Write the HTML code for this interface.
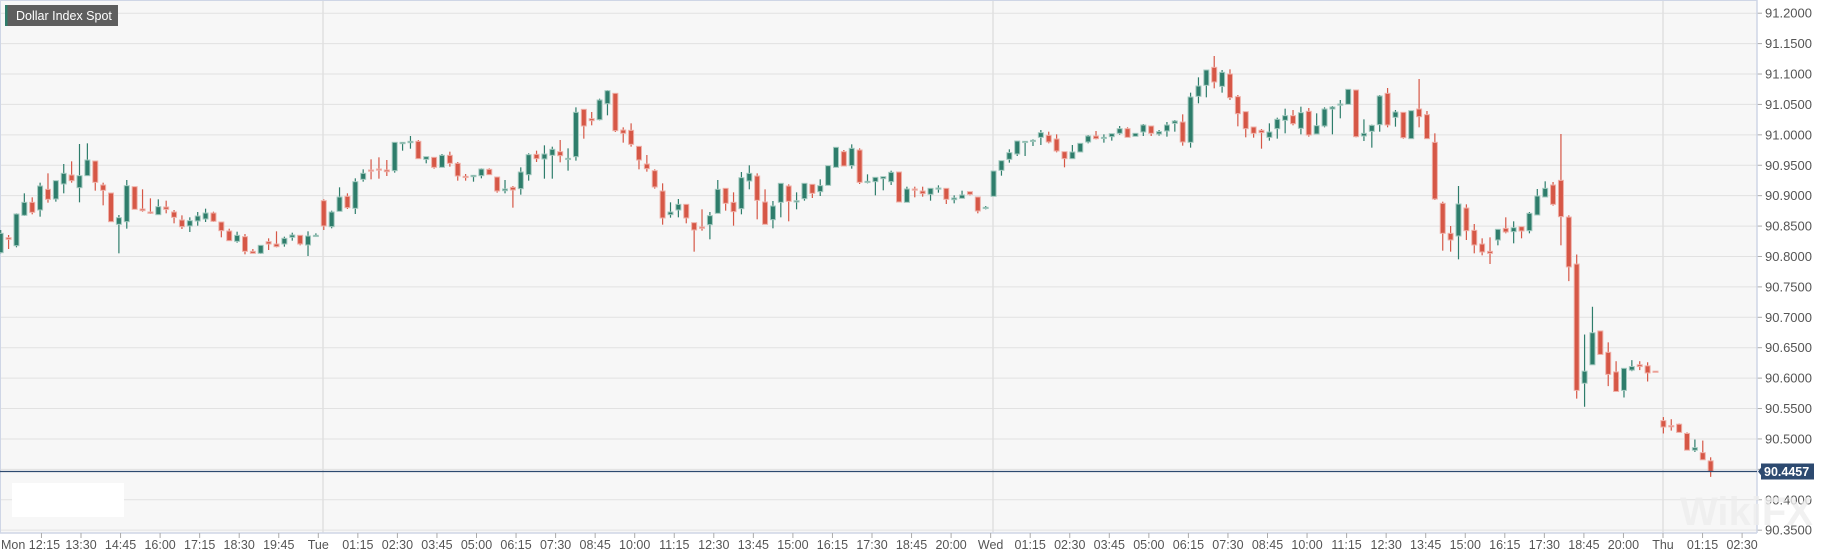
<!DOCTYPE html>
<html><head><meta charset="utf-8">
<style>
html,body{margin:0;padding:0;background:#fff;}
body{width:1828px;height:558px;overflow:hidden;position:relative;font-family:"Liberation Sans",Arial,sans-serif;}
svg{position:absolute;left:0;top:0;}
</style></head><body>
<svg id="c" width="1828" height="558" xmlns="http://www.w3.org/2000/svg"></svg>
<script>
const S=document.getElementById('c');
let h='';
const PR=1757;
const yP=p=>13.2+(91.2-p)*608.2;
h+=`<rect x="0" y="0" width="${PR}" height="533" fill="#f7f7f7"/>`;
// horizontal gridlines & labels
for(let i=0;i<=17;i++){const p=91.2-i*0.05;const y=yP(p);
 h+=`<line x1="0" y1="${y}" x2="${PR}" y2="${y}" stroke="#e2e2e2" stroke-width="1"/>`;
 h+=`<line x1="${PR}" y1="${y}" x2="${PR+5}" y2="${y}" stroke="#aaa" stroke-width="1"/>`;
 if(i!==15) h+=`<text x="1765" y="${y+4.5}" font-size="13" fill="#555">${p.toFixed(4)}</text>`;}
// day separators
[323,993,1663].forEach(x=>h+=`<line x1="${x}" y1="0" x2="${x}" y2="533" stroke="#e0e0e0" stroke-width="1.5"/>`);
// borders
h+=`<line x1="0.5" y1="0" x2="0.5" y2="533" stroke="#cfd6e6"/>`;
h+=`<line x1="0" y1="0.5" x2="${PR}" y2="0.5" stroke="#cfd6e6"/>`;
h+=`<line x1="${PR}" y1="0" x2="${PR}" y2="533" stroke="#cfd6e6" stroke-width="1.5"/>`;
h+=`<line x1="0" y1="533" x2="${PR}" y2="533" stroke="#cfd6e6" stroke-width="1.5"/>`;
// x labels
const L=["Mon 12:15","13:30","14:45","16:00","17:15","18:30","19:45","Tue","01:15","02:30","03:45","05:00","06:15","07:30","08:45","10:00","11:15","12:30","13:45","15:00","16:15","17:30","18:45","20:00","Wed","01:15","02:30","03:45","05:00","06:15","07:30","08:45","10:00","11:15","12:30","13:45","15:00","16:15","17:30","18:45","20:00","Thu","01:15","02:30"];
L.forEach((t,n)=>{const x=1663-(41-n)*39.55;
 h+=`<line x1="${x}" y1="533" x2="${x}" y2="538" stroke="#aaa"/>`;
 if(n===0) h+=`<text x="1" y="549" font-size="12.5" fill="#555">${t}</text>`;
 else h+=`<text x="${x}" y="549" font-size="12.5" fill="#555" text-anchor="middle">${t}</text>`;});
// candles
const secs=[
[130,3,1,"g,310,368,300,370 r,323,328,315,357 g,252,347,250,352 g,217,256,190,258 r,217,247,202,253 g,168,240,158,260 r,178,208,130,218 g,152,207,152,215 g,130,162,102,190 r,135,152,94,158 g,137,173,42,217 g,90,137,40,137 r,93,157,93,182 r,165,181,158,226 r,189,275,189,276 g,263,283,255,370 g,167,275,150,296 r,170,238,170,238 r,237,242,178,245 r,246,250,205,252 g,230,254,208,254 r,231,238,212,250 r,246,262,240,280 r,270,290,256,297 g,272,288,262,306 g,258,273,246,287 g,249,267,236,276 r,249,274,245,276 r,276,302,276,322 r,303,332,296,332 g,316,334,305,338 r,320,364,312,373 r,364,370,357,370 g,346,370,346,372 r,335,342,325,360 r,342,350,304,352 g,325,342,320,350 g,315,322,308,332 r,316,342,316,346 g,318,345,304,378 g,316,318,310,318 r,212,288,208,300 g,246,290,242,295 g,201,244,172,244 r,199,233,190,237 g,155,235,145,252"],
[80,3,47,"g,280,298,268,305 r,270,272,238,298 r,267,269,232,296 r,270,275,240,288 g,187,272,187,278 g,187,191,187,212 g,184,188,168,206 r,184,236,180,236 g,230,238,230,250 r,232,262,232,266 g,226,262,222,262 r,226,250,215,260 r,250,288,246,302 r,289,292,282,302 g,286,290,286,305 g,267,287,265,295 r,268,284,265,284 r,291,333,291,338 g,327,332,300,340 r,322,330,318,383 g,276,326,262,344 g,224,284,220,302 r,223,236,212,246 g,222,237,196,296 g,208,226,200,296 r,215,227,180,247 g,235,238,205,272 g,97,230,82,242 r,88,138,88,176 r,116,122,96,136 g,60,119,56,121 g,32,71,30,106 r,40,152,40,156 r,150,160,142,188 r,151,193,130,200 r,199,240,199,268 r,252,266,225,275 r,272,321,268,326 r,333,414,310,434 g,396,404,367,413 g,373,390,357,412 r,373,414,373,430 r,428,450,428,515 r,441,445,388,452 g,407,434,396,478 g,328,400,300,400"],
[130,3,93,"r,175,220,175,242 r,217,245,187,287 g,143,236,126,253 g,130,153,106,178 r,138,211,130,268 r,216,283,178,283 g,228,269,213,295 g,160,217,160,262 r,168,214,163,274 g,212,216,187,238 g,160,206,160,212 r,163,190,163,204 g,167,185,148,198 g,107,166,107,166 g,52,112,52,112 r,65,108,60,108 g,55,107,43,116 r,60,157,55,162 g,154,157,133,160 g,142,155,142,196 g,140,146,140,181 g,127,155,122,165 r,126,216,126,216 g,177,217,170,217 r,177,179,170,202 r,183,191,170,200 g,175,193,175,212 g,174,177,166,188 r,175,208,175,222 g,204,209,196,220 g,195,205,182,205 r,185,193,185,196 r,201,243,201,250 g,232,235,228,238 g,123,199,123,199 g,92,121,92,137 g,68,88,58,98 g,33,72,33,78 g,34,35,34,78 g,31,34,28,48 g,8,22,0,45 r,16,36,5,40 r,27,63,13,67 r,65,86,65,112 g,66,86,45,86 g,40,66,40,66"],
[50,3,139,"g,258,276,255,280 r,258,266,243,268 g,262,265,253,278 g,251,260,251,272 g,236,250,228,254 r,236,262,232,262 g,250,259,250,259 g,225,246,222,258 r,228,250,228,258 g,245,252,240,257 g,225,243,216,260 g,213,220,210,245 r,216,276,193,287 g,141,277,128,293 g,108,139,82,160 g,60,106,60,142 r,52,96,18,115 g,67,109,60,128 r,72,143,58,150 r,140,191,135,229 r,185,236,185,262 r,231,250,231,263 r,241,248,237,296 g,246,262,220,272 g,208,236,203,266 g,197,211,176,250 r,197,221,180,226 g,188,235,170,253 r,184,255,174,260 g,227,252,190,252 g,177,228,172,232 g,171,177,168,253 g,162,164,150,205 g,118,163,118,163 r,120,260,120,262 g,250,258,208,273 g,226,244,224,293 g,138,224,135,245 r,130,225,114,232 g,186,202,180,230 r,187,263,187,266 g,182,266,182,266 r,177,200,87,232 r,194,266,183,266"],
[60,3,183,"r,247,417,220,420 r,430,520,425,572 r,520,540,498,575 g,432,528,378,598 r,444,512,433,540 r,511,555,492,580 r,552,576,535,586 r,574,580,532,612 g,508,540,508,556 r,505,516,472,520 g,503,515,484,550 r,500,513,500,535 g,460,512,456,520 g,408,465,387,465 g,385,411,364,411 r,375,433,366,437 r,361,470,222,556"],
[0,2.81,200,"r,610,750,605,790 r,742,1097,715,1120 g,1043,1077,940,1143 g,935,1025,862,1025 r,930,996,930,996 r,990,1052,962,1085 r,1045,1100,1015,1100 g,1035,1097,1035,1117 g,1030,1040,1012,1043 r,1025,1030,1015,1040 r,1028,1048,1018,1072 r,1043,1045,1043,1045 r,1182,1200,1172,1218 r,1196,1198,1178,1210 r,1192,1215,1190,1215 r,1218,1265,1215,1265 g,1258,1265,1235,1270 r,1272,1292,1238,1292 r,1295,1325,1285,1340"]
];
const col={g:['#2e7d6b','#a3c9bf'],r:['#d65746','#efb0a8']};
secs.forEach(([y0,s,start,str])=>{
 str.split(' ').forEach((c,i)=>{const a=c.split(',');const n=start+i;const x=0.7+(n-1)*7.88;
  const v=a.slice(1).map(Number).map(z=>y0+z/s);
  const bt=Math.min(v[0],v[1]),bb=Math.max(v[0],v[1]),wt=Math.min(v[2],bt),wb=Math.max(v[3],bb);
  const [f,st]=col[a[0]];
  h+=`<line x1="${x}" y1="${wt}" x2="${x}" y2="${wb}" stroke="${f}" stroke-width="1.2"/>`;
  h+=`<rect x="${x-2.5}" y="${bt}" width="5" height="${Math.max(bb-bt,1.2)}" fill="${f}" stroke="${st}" stroke-width="1"/>`;
 });});
// price line
const py=471.5;
h+=`<line x1="0" y1="${py}" x2="${PR}" y2="${py}" stroke="#2d4a70" stroke-width="1.2"/>`;
h+=`<polygon points="${PR+1},${py} ${PR+5},${py-5} ${PR+5},${py+5}" fill="#2d4a70"/>`;
h+=`<rect x="${PR+4}" y="${py-8}" width="53" height="16" fill="#2d4a70"/>`;
h+=`<text x="${PR+7}" y="${py+4.5}" font-size="12.5" font-weight="bold" fill="#fff">90.4457</text>`;
// white box
h+=`<rect x="12" y="483" width="112" height="34" fill="#ffffff"/>`;
// watermark
h+=`<text x="1680" y="525" font-size="40" font-weight="bold" fill="#eeeeee" opacity="0.8">WikiFX</text>`;
// title
h+=`<rect x="5" y="5" width="113" height="21" fill="#5e5e5e"/><rect x="5" y="5" width="2.5" height="21" fill="#2e7d6b"/>`;
h+=`<text x="16" y="20" font-size="12.5" fill="#fff">Dollar Index Spot</text>`;
S.innerHTML=h;
</script>
</body></html>
